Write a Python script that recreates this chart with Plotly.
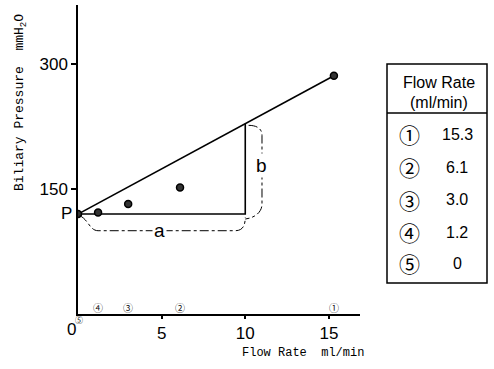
import plotly.graph_objects as go

# ---- data ----
labels = ["①", "②", "③", "④", "⑤"]
flow = [15.3, 6.1, 3.0, 1.2, 0.0]           # ml/min
pressure = [286, 152, 132, 122, 120]        # mmH2O
flow_text = ["15.3", "6.1", "3.0", "1.2", "0"]
x_ticks = [5, 10, 15]
y_ticks = [150, 300]
P = 120            # intercept pressure
a_len = 10         # horizontal leg "a"

W, H = 494, 369
L, R, T, B = 78, 360, 5, 314   # plot-area pixel box
X_MAX, Y_MAX = 16.86, 371


def px(x):
    return (x - L) / (R - L)


def py(y):
    return (B - y) / (B - T)


slope = (pressure[0] - P) / flow[0]
b_top = P + slope * a_len

fig = go.Figure()

# fitted line from P to point 1
fig.add_trace(go.Scatter(x=[0, flow[0]], y=[P, pressure[0]], mode="lines",
                         line=dict(color="black", width=1.6), hoverinfo="skip"))
# triangle legs
fig.add_trace(go.Scatter(x=[0, a_len, a_len], y=[P, P, b_top], mode="lines",
                         line=dict(color="black", width=1.6), hoverinfo="skip"))
# data points
fig.add_trace(go.Scatter(x=flow, y=pressure, mode="markers",
                         marker=dict(size=7, color="#333", line=dict(color="black", width=1.5)),
                         hoverinfo="skip"))

shapes = []
# brace a
shapes.append(dict(type="path", xref="x", yref="y",
                   path=f"M 0.1 {P-2} C 0.6 {P-6}, 0.7 {P-20}, 1.2 {P-20} L 9.4 {P-20} C 9.9 {P-20}, 10.0 {P-12}, 10.0 {P-4}",
                   line=dict(color="black", width=1, dash="dashdot")))
# brace b
bx = 11.0
shapes.append(dict(type="path", xref="x", yref="y",
                   path=f"M 10.2 {b_top-2} C 10.7 {b_top-2}, {bx} {b_top-6}, {bx} {b_top-14} L {bx} {P+12} C {bx} {P+4}, 10.7 {P-4}, 10.0 {P-6}",
                   line=dict(color="black", width=1, dash="dashdot")))

# table box
tl, tr, tt, tb = 387, 487, 64, 283
shapes.append(dict(type="rect", xref="paper", yref="paper",
                   x0=px(tl), x1=px(tr), y0=py(tb), y1=py(tt),
                   line=dict(color="black", width=1.5)))
shapes.append(dict(type="line", xref="paper", yref="paper",
                   x0=px(tl), x1=px(tr), y0=py(113), y1=py(113),
                   line=dict(color="black", width=1.5)))

C = dict(xanchor="center", yanchor="middle", showarrow=False)
annotations = []
# axis label annotations
annotations.append(dict(x=0, y=0, xref="x", yref="y", text="0", xshift=-7, yshift=-15,
                        font=dict(size=17, family="Liberation Sans", color="black"), **C))
annotations.append(dict(x=0, y=P, xref="x", yref="y", text="P", xshift=-12, yshift=1,
                        font=dict(size=17, family="Liberation Sans", color="black"), **C))
annotations.append(dict(x=4.9, y=P - 20, xref="x", yref="y", text="a", bgcolor="white",
                        font=dict(size=19, family="Liberation Sans", color="black"), **C))
annotations.append(dict(x=bx, y=(P + b_top) / 2 + 4, xref="x", yref="y", text="b", bgcolor="white",
                        font=dict(size=19, family="Liberation Sans", color="black"), **C))
# circled markers along x axis
for lab, f in zip(labels[:-1], flow[:-1]):
    annotations.append(dict(x=f, y=0, xref="x", yref="y", text=lab, yshift=7,
                            font=dict(size=10, family="Noto Sans CJK JP", color="#111"), **C))
annotations.append(dict(x=0, y=0, xref="x", yref="y", text=labels[-1], xshift=1, yshift=-5,
                        font=dict(size=8, family="Noto Sans CJK JP", color="#111"), **C))

# axis titles
annotations.append(dict(x=px(20), y=py(103), xref="paper", yref="paper", textangle=-90,
                        text="Biliary Pressure  mmH<sub>2</sub>O",
                        font=dict(size=13, family="Liberation Mono", color="black"), **C))
annotations.append(dict(x=px(303), y=py(353), xref="paper", yref="paper",
                        text="Flow Rate  ml/min",
                        font=dict(size=12, family="Liberation Mono", color="black"), **C))

# table text
annotations.append(dict(x=px(439), y=py(82), xref="paper", yref="paper", text="Flow Rate",
                        font=dict(size=16, family="Liberation Sans Narrow, Liberation Sans", color="black"), **C))
annotations.append(dict(x=px(439), y=py(102), xref="paper", yref="paper", text="(ml/min)",
                        font=dict(size=16, family="Liberation Sans Narrow, Liberation Sans", color="black"), **C))
row_y = [134, 167, 200, 232, 263]
for lab, txt, ry in zip(labels, flow_text, row_y):
    annotations.append(dict(x=px(409), y=py(ry), xref="paper", yref="paper", text=lab,
                            font=dict(size=21, family="Noto Sans CJK JP", color="black"), **C))
    annotations.append(dict(x=px(457), y=py(ry), xref="paper", yref="paper", text=txt,
                            font=dict(size=16, family="Liberation Sans Narrow, Liberation Sans", color="black"), **C))

fig.update_layout(
    width=W, height=H,
    margin=dict(l=L, r=W - R, t=T, b=H - B),
    paper_bgcolor="white", plot_bgcolor="white",
    showlegend=False,
    shapes=shapes, annotations=annotations,
    xaxis=dict(range=[0, X_MAX], tickvals=x_ticks, ticks="outside", ticklen=3, tickwidth=1.5,
               tickcolor="black", showgrid=False, zeroline=False, showline=True,
               linecolor="black", linewidth=1.5,
               tickfont=dict(size=17, family="Liberation Sans", color="black")),
    yaxis=dict(range=[0, Y_MAX], tickvals=y_ticks, ticks="outside", ticklen=5, tickwidth=1.5,
               tickcolor="black", showgrid=False, zeroline=False, showline=True,
               linecolor="black", linewidth=1.5,
               tickfont=dict(size=17, family="Liberation Sans", color="black")),
)

fig.write_html("out.html")
